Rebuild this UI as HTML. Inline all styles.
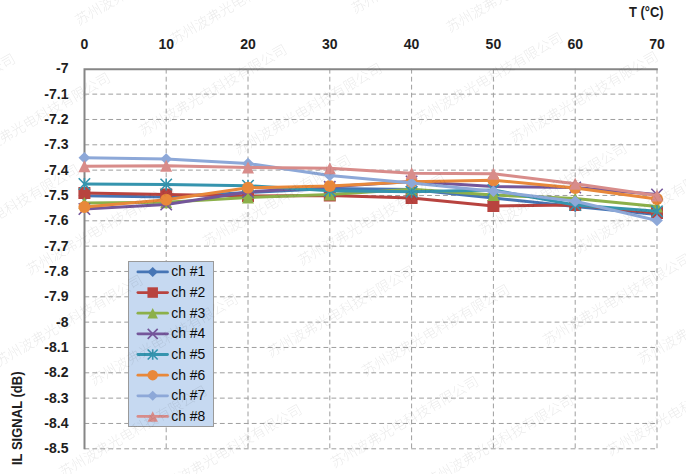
<!DOCTYPE html>
<html><head><meta charset="utf-8"><title>IL signal vs temperature</title>
<style>
html,body{margin:0;padding:0;background:#fff;}
body{width:686px;height:474px;overflow:hidden;position:relative;}
.ov{position:absolute;left:0;top:0;will-change:transform;}
svg{display:block;}
.ax{font-family:"Liberation Sans","Noto Sans CJK SC",sans-serif;font-weight:bold;font-size:14.8px;fill:#1e1e1e;}
.lg{font-family:"Liberation Sans","Noto Sans CJK SC",sans-serif;font-size:14.6px;fill:#0d0d0d;}
.wm{font-family:"Noto Sans CJK SC","WenQuanYi Zen Hei",sans-serif;font-size:14px;font-weight:300;fill:#000;fill-opacity:0.085;}
</style></head><body>
<svg width="686" height="474" viewBox="0 0 686 474">
<rect width="686" height="474" fill="#fff"/>
<g stroke="#9e9e9e" stroke-width="1" stroke-dasharray="4.8,3.17" fill="none"><line x1="84.40" y1="94.13" x2="657.50" y2="94.13"/><line x1="84.40" y1="119.47" x2="657.50" y2="119.47"/><line x1="84.40" y1="144.80" x2="657.50" y2="144.80"/><line x1="84.40" y1="170.13" x2="657.50" y2="170.13"/><line x1="84.40" y1="195.46" x2="657.50" y2="195.46"/><line x1="84.40" y1="220.80" x2="657.50" y2="220.80"/><line x1="84.40" y1="246.13" x2="657.50" y2="246.13"/><line x1="84.40" y1="271.46" x2="657.50" y2="271.46"/><line x1="84.40" y1="296.80" x2="657.50" y2="296.80"/><line x1="84.40" y1="322.13" x2="657.50" y2="322.13"/><line x1="84.40" y1="347.46" x2="657.50" y2="347.46"/><line x1="84.40" y1="372.80" x2="657.50" y2="372.80"/><line x1="84.40" y1="398.13" x2="657.50" y2="398.13"/><line x1="84.40" y1="423.46" x2="657.50" y2="423.46"/><line x1="84.40" y1="448.80" x2="657.50" y2="448.80"/><line x1="166.20" y1="68.80" x2="166.20" y2="449.30"/><line x1="248.00" y1="68.80" x2="248.00" y2="449.30"/><line x1="329.80" y1="68.80" x2="329.80" y2="449.30"/><line x1="411.60" y1="68.80" x2="411.60" y2="449.30"/><line x1="493.40" y1="68.80" x2="493.40" y2="449.30"/><line x1="575.20" y1="68.80" x2="575.20" y2="449.30"/><line x1="657.00" y1="68.80" x2="657.00" y2="449.30"/></g>
<path d="M84.50,449.30V69.20H657.80" stroke="#868686" stroke-width="2" fill="none"/>
<polyline points="84.40,195.70 166.20,197.00 248.00,192.50 329.80,188.50 411.60,189.50 493.40,198.00 575.20,206.50 657.00,214.50" stroke="#4675B5" stroke-width="3" fill="none" stroke-linejoin="round" stroke-linecap="round"/>
<path d="M84.40,190.00L90.28,195.70L84.40,201.40L78.52,195.70Z" fill="#4675B5"/><path d="M166.20,191.30L172.08,197.00L166.20,202.70L160.32,197.00Z" fill="#4675B5"/><path d="M248.00,186.80L253.88,192.50L248.00,198.20L242.12,192.50Z" fill="#4675B5"/><path d="M329.80,182.80L335.68,188.50L329.80,194.20L323.92,188.50Z" fill="#4675B5"/><path d="M411.60,183.80L417.48,189.50L411.60,195.20L405.72,189.50Z" fill="#4675B5"/><path d="M493.40,192.30L499.28,198.00L493.40,203.70L487.52,198.00Z" fill="#4675B5"/><path d="M575.20,200.80L581.08,206.50L575.20,212.20L569.32,206.50Z" fill="#4675B5"/><path d="M657.00,208.80L662.88,214.50L657.00,220.20L651.12,214.50Z" fill="#4675B5"/>
<polyline points="84.40,193.00 166.20,194.50 248.00,196.00 329.80,195.50 411.60,198.00 493.40,206.00 575.20,205.00 657.00,213.00" stroke="#B8433F" stroke-width="3" fill="none" stroke-linejoin="round" stroke-linecap="round"/>
<rect x="78.40" y="187.00" width="12.00" height="12.00" fill="#B8433F"/><rect x="160.20" y="188.50" width="12.00" height="12.00" fill="#B8433F"/><rect x="242.00" y="190.00" width="12.00" height="12.00" fill="#B8433F"/><rect x="323.80" y="189.50" width="12.00" height="12.00" fill="#B8433F"/><rect x="405.60" y="192.00" width="12.00" height="12.00" fill="#B8433F"/><rect x="487.40" y="200.00" width="12.00" height="12.00" fill="#B8433F"/><rect x="569.20" y="199.00" width="12.00" height="12.00" fill="#B8433F"/><rect x="651.00" y="207.00" width="12.00" height="12.00" fill="#B8433F"/>
<polyline points="84.40,203.00 166.20,202.30 248.00,197.60 329.80,194.40 411.60,189.20 493.40,195.00 575.20,198.50 657.00,206.40" stroke="#8CB04A" stroke-width="3" fill="none" stroke-linejoin="round" stroke-linecap="round"/>
<path d="M84.40,197.00L90.40,209.00L78.40,209.00Z" fill="#8CB04A"/><path d="M166.20,196.30L172.20,208.30L160.20,208.30Z" fill="#8CB04A"/><path d="M248.00,191.60L254.00,203.60L242.00,203.60Z" fill="#8CB04A"/><path d="M329.80,188.40L335.80,200.40L323.80,200.40Z" fill="#8CB04A"/><path d="M411.60,183.20L417.60,195.20L405.60,195.20Z" fill="#8CB04A"/><path d="M493.40,189.00L499.40,201.00L487.40,201.00Z" fill="#8CB04A"/><path d="M575.20,192.50L581.20,204.50L569.20,204.50Z" fill="#8CB04A"/><path d="M657.00,200.40L663.00,212.40L651.00,212.40Z" fill="#8CB04A"/>
<polyline points="84.40,209.00 166.20,204.50 248.00,192.00 329.80,186.80 411.60,181.50 493.40,186.50 575.20,187.50 657.00,194.50" stroke="#74569A" stroke-width="3" fill="none" stroke-linejoin="round" stroke-linecap="round"/>
<path d="M78.70,203.30L90.10,214.70M90.10,203.30L78.70,214.70" stroke="#74569A" stroke-width="1.6" fill="none"/><path d="M160.50,198.80L171.90,210.20M171.90,198.80L160.50,210.20" stroke="#74569A" stroke-width="1.6" fill="none"/><path d="M242.30,186.30L253.70,197.70M253.70,186.30L242.30,197.70" stroke="#74569A" stroke-width="1.6" fill="none"/><path d="M324.10,181.10L335.50,192.50M335.50,181.10L324.10,192.50" stroke="#74569A" stroke-width="1.6" fill="none"/><path d="M405.90,175.80L417.30,187.20M417.30,175.80L405.90,187.20" stroke="#74569A" stroke-width="1.6" fill="none"/><path d="M487.70,180.80L499.10,192.20M499.10,180.80L487.70,192.20" stroke="#74569A" stroke-width="1.6" fill="none"/><path d="M569.50,181.80L580.90,193.20M580.90,181.80L569.50,193.20" stroke="#74569A" stroke-width="1.6" fill="none"/><path d="M651.30,188.80L662.70,200.20M662.70,188.80L651.30,200.20" stroke="#74569A" stroke-width="1.6" fill="none"/>
<polyline points="84.40,184.00 166.20,184.50 248.00,185.70 329.80,190.80 411.60,191.80 493.40,190.00 575.20,205.00 657.00,211.30" stroke="#3594AE" stroke-width="3" fill="none" stroke-linejoin="round" stroke-linecap="round"/>
<path d="M78.70,178.30L90.10,189.70M90.10,178.30L78.70,189.70M84.40,178.00L84.40,190.00" stroke="#3594AE" stroke-width="1.6" fill="none"/><path d="M160.50,178.80L171.90,190.20M171.90,178.80L160.50,190.20M166.20,178.50L166.20,190.50" stroke="#3594AE" stroke-width="1.6" fill="none"/><path d="M242.30,180.00L253.70,191.40M253.70,180.00L242.30,191.40M248.00,179.70L248.00,191.70" stroke="#3594AE" stroke-width="1.6" fill="none"/><path d="M324.10,185.10L335.50,196.50M335.50,185.10L324.10,196.50M329.80,184.80L329.80,196.80" stroke="#3594AE" stroke-width="1.6" fill="none"/><path d="M405.90,186.10L417.30,197.50M417.30,186.10L405.90,197.50M411.60,185.80L411.60,197.80" stroke="#3594AE" stroke-width="1.6" fill="none"/><path d="M487.70,184.30L499.10,195.70M499.10,184.30L487.70,195.70M493.40,184.00L493.40,196.00" stroke="#3594AE" stroke-width="1.6" fill="none"/><path d="M569.50,199.30L580.90,210.70M580.90,199.30L569.50,210.70M575.20,199.00L575.20,211.00" stroke="#3594AE" stroke-width="1.6" fill="none"/><path d="M651.30,205.60L662.70,217.00M662.70,205.60L651.30,217.00M657.00,205.30L657.00,217.30" stroke="#3594AE" stroke-width="1.6" fill="none"/>
<polyline points="84.40,207.00 166.20,199.70 248.00,187.80 329.80,186.00 411.60,181.80 493.40,180.20 575.20,188.00 657.00,199.00" stroke="#E8883A" stroke-width="3" fill="none" stroke-linejoin="round" stroke-linecap="round"/>
<circle cx="84.40" cy="207.00" r="6.00" fill="#E8883A"/><circle cx="166.20" cy="199.70" r="6.00" fill="#E8883A"/><circle cx="248.00" cy="187.80" r="6.00" fill="#E8883A"/><circle cx="329.80" cy="186.00" r="6.00" fill="#E8883A"/><circle cx="411.60" cy="181.80" r="6.00" fill="#E8883A"/><circle cx="493.40" cy="180.20" r="6.00" fill="#E8883A"/><circle cx="575.20" cy="188.00" r="6.00" fill="#E8883A"/><circle cx="657.00" cy="199.00" r="6.00" fill="#E8883A"/>
<polyline points="84.40,157.80 166.20,158.90 248.00,163.50 329.80,175.50 411.60,182.90 493.40,191.30 575.20,201.20 657.00,220.50" stroke="#8DA8D8" stroke-width="3" fill="none" stroke-linejoin="round" stroke-linecap="round"/>
<path d="M84.40,152.10L90.28,157.80L84.40,163.50L78.52,157.80Z" fill="#8DA8D8"/><path d="M166.20,153.20L172.08,158.90L166.20,164.60L160.32,158.90Z" fill="#8DA8D8"/><path d="M248.00,157.80L253.88,163.50L248.00,169.20L242.12,163.50Z" fill="#8DA8D8"/><path d="M329.80,169.80L335.68,175.50L329.80,181.20L323.92,175.50Z" fill="#8DA8D8"/><path d="M411.60,177.20L417.48,182.90L411.60,188.60L405.72,182.90Z" fill="#8DA8D8"/><path d="M493.40,185.60L499.28,191.30L493.40,197.00L487.52,191.30Z" fill="#8DA8D8"/><path d="M575.20,195.50L581.08,201.20L575.20,206.90L569.32,201.20Z" fill="#8DA8D8"/><path d="M657.00,214.80L662.88,220.50L657.00,226.20L651.12,220.50Z" fill="#8DA8D8"/>
<polyline points="84.40,166.20 166.20,165.70 248.00,167.50 329.80,168.20 411.60,173.30 493.40,173.80 575.20,183.80 657.00,195.50" stroke="#D88C8A" stroke-width="3" fill="none" stroke-linejoin="round" stroke-linecap="round"/>
<path d="M84.40,160.20L90.40,172.20L78.40,172.20Z" fill="#D88C8A"/><path d="M166.20,159.70L172.20,171.70L160.20,171.70Z" fill="#D88C8A"/><path d="M248.00,161.50L254.00,173.50L242.00,173.50Z" fill="#D88C8A"/><path d="M329.80,162.20L335.80,174.20L323.80,174.20Z" fill="#D88C8A"/><path d="M411.60,167.30L417.60,179.30L405.60,179.30Z" fill="#D88C8A"/><path d="M493.40,167.80L499.40,179.80L487.40,179.80Z" fill="#D88C8A"/><path d="M575.20,177.80L581.20,189.80L569.20,189.80Z" fill="#D88C8A"/><path d="M657.00,189.50L663.00,201.50L651.00,201.50Z" fill="#D88C8A"/>
<text class="ax" transform="translate(84.40,48.6) scale(0.95,1)" text-anchor="middle">0</text>
<text class="ax" transform="translate(166.20,48.6) scale(0.95,1)" text-anchor="middle">10</text>
<text class="ax" transform="translate(248.00,48.6) scale(0.95,1)" text-anchor="middle">20</text>
<text class="ax" transform="translate(329.80,48.6) scale(0.95,1)" text-anchor="middle">30</text>
<text class="ax" transform="translate(411.60,48.6) scale(0.95,1)" text-anchor="middle">40</text>
<text class="ax" transform="translate(493.40,48.6) scale(0.95,1)" text-anchor="middle">50</text>
<text class="ax" transform="translate(575.20,48.6) scale(0.95,1)" text-anchor="middle">60</text>
<text class="ax" transform="translate(657.00,48.6) scale(0.95,1)" text-anchor="middle">70</text>
<text class="ax" transform="translate(68.5,73.40) scale(0.95,1)" text-anchor="end">-7</text>
<text class="ax" transform="translate(68.5,98.73) scale(0.95,1)" text-anchor="end">-7.1</text>
<text class="ax" transform="translate(68.5,124.07) scale(0.95,1)" text-anchor="end">-7.2</text>
<text class="ax" transform="translate(68.5,149.40) scale(0.95,1)" text-anchor="end">-7.3</text>
<text class="ax" transform="translate(68.5,174.73) scale(0.95,1)" text-anchor="end">-7.4</text>
<text class="ax" transform="translate(68.5,200.06) scale(0.95,1)" text-anchor="end">-7.5</text>
<text class="ax" transform="translate(68.5,225.40) scale(0.95,1)" text-anchor="end">-7.6</text>
<text class="ax" transform="translate(68.5,250.73) scale(0.95,1)" text-anchor="end">-7.7</text>
<text class="ax" transform="translate(68.5,276.06) scale(0.95,1)" text-anchor="end">-7.8</text>
<text class="ax" transform="translate(68.5,301.40) scale(0.95,1)" text-anchor="end">-7.9</text>
<text class="ax" transform="translate(68.5,326.73) scale(0.95,1)" text-anchor="end">-8</text>
<text class="ax" transform="translate(68.5,352.06) scale(0.95,1)" text-anchor="end">-8.1</text>
<text class="ax" transform="translate(68.5,377.40) scale(0.95,1)" text-anchor="end">-8.2</text>
<text class="ax" transform="translate(68.5,402.73) scale(0.95,1)" text-anchor="end">-8.3</text>
<text class="ax" transform="translate(68.5,428.06) scale(0.95,1)" text-anchor="end">-8.4</text>
<text class="ax" transform="translate(68.5,453.40) scale(0.95,1)" text-anchor="end">-8.5</text>
<text class="ax" x="629" y="17.2" textLength="34.5" lengthAdjust="spacingAndGlyphs">T (°C)</text>
<text class="ax" transform="translate(22.3,465) rotate(-90)" x="0" y="0" textLength="93.5" lengthAdjust="spacingAndGlyphs">IL SIGNAL (dB)</text>
<rect x="128.5" y="261.5" width="85.0" height="165.0" fill="#C6D9F1" stroke="#9a9a9a" stroke-width="1"/>
<line x1="137.9" y1="271.90" x2="167.5" y2="271.90" stroke="#4675B5" stroke-width="2.8" stroke-linecap="round"/>
<path d="M152.70,266.91L157.84,271.90L152.70,276.89L147.55,271.90Z" fill="#4675B5"/>
<text class="lg" transform="translate(171.2,276.30) scale(0.955,1)">ch #1</text>
<line x1="137.9" y1="292.55" x2="167.5" y2="292.55" stroke="#B8433F" stroke-width="2.8" stroke-linecap="round"/>
<rect x="147.45" y="287.30" width="10.50" height="10.50" fill="#B8433F"/>
<text class="lg" transform="translate(171.2,296.95) scale(0.955,1)">ch #2</text>
<line x1="137.9" y1="313.20" x2="167.5" y2="313.20" stroke="#8CB04A" stroke-width="2.8" stroke-linecap="round"/>
<path d="M152.70,307.95L157.95,318.45L147.45,318.45Z" fill="#8CB04A"/>
<text class="lg" transform="translate(171.2,317.60) scale(0.955,1)">ch #3</text>
<line x1="137.9" y1="333.85" x2="167.5" y2="333.85" stroke="#74569A" stroke-width="2.8" stroke-linecap="round"/>
<path d="M147.71,328.86L157.69,338.84M157.69,328.86L147.71,338.84" stroke="#74569A" stroke-width="1.6" fill="none"/>
<text class="lg" transform="translate(171.2,338.25) scale(0.955,1)">ch #4</text>
<line x1="137.9" y1="354.50" x2="167.5" y2="354.50" stroke="#3594AE" stroke-width="2.8" stroke-linecap="round"/>
<path d="M147.71,349.51L157.69,359.49M157.69,349.51L147.71,359.49M152.70,349.25L152.70,359.75" stroke="#3594AE" stroke-width="1.6" fill="none"/>
<text class="lg" transform="translate(171.2,358.90) scale(0.955,1)">ch #5</text>
<line x1="137.9" y1="375.15" x2="167.5" y2="375.15" stroke="#E8883A" stroke-width="2.8" stroke-linecap="round"/>
<circle cx="152.70" cy="375.15" r="5.25" fill="#E8883A"/>
<text class="lg" transform="translate(171.2,379.55) scale(0.955,1)">ch #6</text>
<line x1="137.9" y1="395.80" x2="167.5" y2="395.80" stroke="#8DA8D8" stroke-width="2.8" stroke-linecap="round"/>
<path d="M152.70,390.81L157.84,395.80L152.70,400.79L147.55,395.80Z" fill="#8DA8D8"/>
<text class="lg" transform="translate(171.2,400.20) scale(0.955,1)">ch #7</text>
<line x1="137.9" y1="416.45" x2="167.5" y2="416.45" stroke="#D88C8A" stroke-width="2.8" stroke-linecap="round"/>
<path d="M152.70,411.20L157.95,421.70L147.45,421.70Z" fill="#D88C8A"/>
<text class="lg" transform="translate(171.2,420.85) scale(0.955,1)">ch #8</text>
</svg>
<svg class="ov" width="686" height="474" viewBox="0 0 686 474"><g class="wm" transform="rotate(-30)"><text x="-111.7" y="-2.1">苏州波弗光电科技有限公司</text><text x="-184.6" y="61.8">苏州波弗光电科技有限公司</text><text x="55.4" y="61.8">苏州波弗光电科技有限公司</text><text x="-111.7" y="125.7">苏州波弗光电科技有限公司</text><text x="128.3" y="125.7">苏州波弗光电科技有限公司</text><text x="-184.6" y="189.5">苏州波弗光电科技有限公司</text><text x="55.4" y="189.5">苏州波弗光电科技有限公司</text><text x="300.4" y="189.5">苏州波弗光电科技有限公司</text><text x="-111.7" y="253.4">苏州波弗光电科技有限公司</text><text x="128.3" y="253.4">苏州波弗光电科技有限公司</text><text x="373.3" y="253.4">苏州波弗光电科技有限公司</text><text x="-184.6" y="317.2">苏州波弗光电科技有限公司</text><text x="55.4" y="317.2">苏州波弗光电科技有限公司</text><text x="300.4" y="317.2">苏州波弗光电科技有限公司</text><text x="-111.7" y="381.1">苏州波弗光电科技有限公司</text><text x="128.3" y="381.1">苏州波弗光电科技有限公司</text><text x="373.3" y="381.1">苏州波弗光电科技有限公司</text><text x="-184.6" y="445.0">苏州波弗光电科技有限公司</text><text x="55.4" y="445.0">苏州波弗光电科技有限公司</text><text x="300.4" y="445.0">苏州波弗光电科技有限公司</text><text x="-111.7" y="508.8">苏州波弗光电科技有限公司</text><text x="128.3" y="508.8">苏州波弗光电科技有限公司</text><text x="373.3" y="508.8">苏州波弗光电科技有限公司</text><text x="55.4" y="572.7">苏州波弗光电科技有限公司</text><text x="300.4" y="572.7">苏州波弗光电科技有限公司</text><text x="128.3" y="636.5">苏州波弗光电科技有限公司</text><text x="373.3" y="636.5">苏州波弗光电科技有限公司</text><text x="55.4" y="700.4">苏州波弗光电科技有限公司</text><text x="300.4" y="700.4">苏州波弗光电科技有限公司</text><text x="300.4" y="828.1">苏州波弗光电科技有限公司</text></g></svg>
</body></html>
